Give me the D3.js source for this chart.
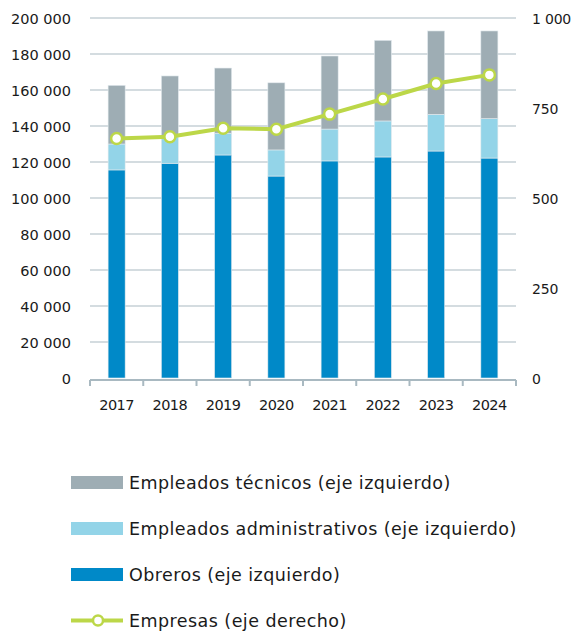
<!DOCTYPE html>
<html>
<head>
<meta charset="utf-8">
<script src="https://cdn.jsdelivr.net/npm/d3@7"></script>
<style>
  body { margin: 0; background: #fff; }
  svg text { font-family: "DejaVu Sans", sans-serif; fill: #1a1a1a; }
</style>
</head>
<body>
<div id="chart"></div>
<script>
// data
var years = ["2017", "2018", "2019", "2020", "2021", "2022", "2023", "2024"];
var obreros = [115600, 119300, 123900, 112200, 120600, 122800, 126100, 122200];
var administrativos = [14400, 14700, 12100, 14500, 17700, 20000, 20400, 21900];
var tecnicos = [32600, 33800, 36200, 37300, 40600, 44800, 46300, 48700];
var empresas = [665, 670, 694, 691, 733, 775, 818, 842];

var leftTicks = [0, 20000, 40000, 60000, 80000, 100000, 120000, 140000, 160000, 180000, 200000];
var rightTicks = [0, 250, 500, 750, 1000];

var colors = { tec: "#9eadb4", adm: "#93d4e8", obr: "#0089c8", emp: "#bcd748" };

var legendItems = [
  { label: "Empleados técnicos (eje izquierdo)", color: colors.tec, type: "bar" },
  { label: "Empleados administrativos (eje izquierdo)", color: colors.adm, type: "bar" },
  { label: "Obreros (eje izquierdo)", color: colors.obr, type: "bar" },
  { label: "Empresas (eje derecho)", color: colors.emp, type: "line" }
];

var width = 573, height = 633;
var plotLeft = 90, plotRight = 516, plotTop = 18, plotBottom = 378;

var svg = d3.select("#chart").append("svg")
  .attr("width", width)
  .attr("height", height);

var x = d3.scaleBand().domain(years).range([plotLeft, plotRight]).paddingInner(0.68).paddingOuter(0.34);
var y = d3.scaleLinear().domain([0, 200000]).range([plotBottom, plotTop]);
var y2 = d3.scaleLinear().domain([0, 1000]).range([plotBottom, plotTop]);

var fmt = function (v) { return d3.format(",")(v).replace(/,/g, " "); };

// grid
svg.append("g").selectAll("line")
  .data(leftTicks.filter(d => d > 0))
  .join("line")
  .attr("x1", plotLeft).attr("x2", plotRight)
  .attr("y1", d => y(d)).attr("y2", d => y(d))
  .attr("stroke", "#a9b9c1").attr("stroke-width", 1);

// stacked bars
var rows = years.map((yr, i) => ({ year: yr, obr: obreros[i], adm: administrativos[i], tec: tecnicos[i] }));
var stack = d3.stack().keys(["obr", "adm", "tec"])(rows);

svg.append("g").selectAll("g")
  .data(stack)
  .join("g")
  .attr("fill", d => colors[d.key])
  .selectAll("rect")
  .data(d => d)
  .join("rect")
  .attr("x", d => x(d.data.year))
  .attr("width", x.bandwidth())
  .attr("y", d => y(d[1]))
  .attr("height", d => y(d[0]) - y(d[1]))
  .attr("stroke", "#e3eaee")
  .attr("stroke-width", 0.6);

// bottom axis
var xAxis = svg.append("g").attr("transform", "translate(0," + 380 + ")");
xAxis.append("line")
  .attr("x1", plotLeft).attr("x2", plotRight)
  .attr("stroke", "#a9b9c1").attr("stroke-width", 2);
var step = x.step();
xAxis.selectAll(".tick")
  .data(d3.range(years.length + 1))
  .join("line")
  .attr("x1", i => plotLeft + i * step).attr("x2", i => plotLeft + i * step)
  .attr("y1", 0).attr("y2", 6)
  .attr("stroke", "#a9b9c1").attr("stroke-width", 2);
xAxis.selectAll("text")
  .data(years)
  .join("text")
  .attr("x", d => x(d) + x.bandwidth() / 2)
  .attr("y", 29.5)
  .attr("text-anchor", "middle")
  .attr("font-size", 14.5)
  .attr("letter-spacing", -0.5)
  .text(d => d);

// left labels
svg.append("g").selectAll("text")
  .data(leftTicks)
  .join("text")
  .attr("x", 71)
  .attr("y", d => y(d) + 5.5)
  .attr("text-anchor", "end")
  .attr("font-size", 14.5)
  .text(d => fmt(d));

// right labels
svg.append("g").selectAll("text")
  .data(rightTicks)
  .join("text")
  .attr("x", 532)
  .attr("y", d => y2(d) + 5.5)
  .attr("font-size", 14)
  .attr("letter-spacing", -0.2)
  .text(d => fmt(d));

// line
var line = d3.line()
  .x((d, i) => x(years[i]) + x.bandwidth() / 2)
  .y(d => y2(d));

svg.append("path")
  .datum(empresas)
  .attr("d", line)
  .attr("fill", "none")
  .attr("stroke", colors.emp)
  .attr("stroke-width", 4);

svg.append("g").selectAll("circle")
  .data(empresas)
  .join("circle")
  .attr("cx", (d, i) => x(years[i]) + x.bandwidth() / 2)
  .attr("cy", d => y2(d))
  .attr("r", 5.5)
  .attr("fill", "#fff")
  .attr("stroke", colors.emp)
  .attr("stroke-width", 2.5);

// legend
var legend = svg.append("g");
var lg = legend.selectAll("g")
  .data(legendItems)
  .join("g")
  .attr("transform", (d, i) => "translate(71," + (482.5 + i * 46) + ")");

lg.filter(d => d.type == "bar").append("rect")
  .attr("x", 0).attr("y", -6.5)
  .attr("width", 52).attr("height", 13)
  .attr("fill", d => d.color);

var ll = lg.filter(d => d.type == "line");
ll.append("line")
  .attr("x1", 0).attr("x2", 52)
  .attr("stroke", d => d.color).attr("stroke-width", 4);
ll.append("circle")
  .attr("cx", 27).attr("r", 5)
  .attr("fill", "#fff")
  .attr("stroke", d => d.color).attr("stroke-width", 2.5);

lg.append("text")
  .attr("x", 58)
  .attr("y", 6.5)
  .attr("font-size", 17.5)
  .attr("letter-spacing", 0.45)
  .text(d => d.label);
</script>
</body>
</html>
